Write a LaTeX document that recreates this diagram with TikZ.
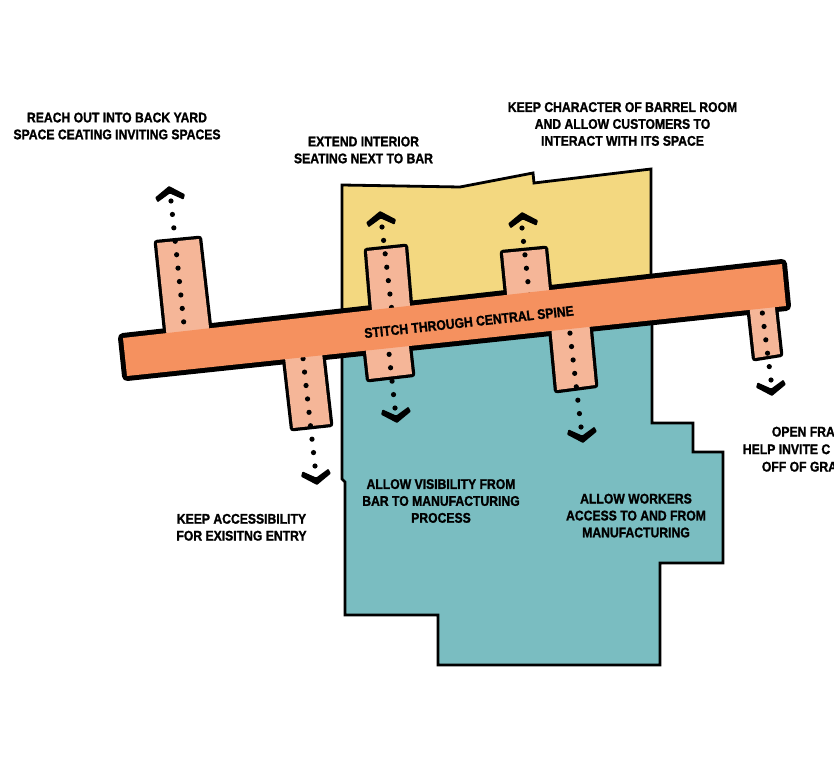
\documentclass[tikz,border=0pt]{standalone}
\usepackage{fontspec}
\newfontfamily\lblfont{Liberation Sans}[FakeStretch=0.87, FakeBold=1.3]
\definecolor{yel}{RGB}{243,216,128}
\definecolor{tealc}{RGB}{122,189,193}
\definecolor{spinec}{RGB}{245,145,95}
\definecolor{barc}{RGB}{245,182,152}
\tikzset{
  lbl/.style={font=\lblfont\bfseries\fontsize{14}{16.9}\selectfont, align=center, inner sep=0pt, text=black},
  lblw/.style={font=\lblfont\bfseries\fontsize{14}{16.9}\selectfont, inner sep=0pt, text=black, anchor=west},
  room/.style={draw=black, line width=2.8pt, line join=miter},
  barout/.style={draw=black, line width=6.5pt, line join=round},
  spineout/.style={draw=black, line width=10pt, line join=round},
  dotline/.style={draw=black, line width=5.2pt, line cap=round, dash pattern=on 0pt off 13.5pt},
  chev/.pic={\fill[black, rounded corners=0.8pt] (0,0) -- (15,10) -- (13,15) -- (0,7.5) -- (-13,15) -- (-15,10) -- cycle;}
}
\begin{document}
\begin{tikzpicture}[x=1pt,y=-1pt]
\useasboundingbox (0,0) rectangle (834,770);
\clip (0,0) rectangle (834,770);
% rooms
\fill[white] (0,0) rectangle (834,770);
\path[room, fill=yel] (342,335) -- (342,185) -- (460,187) -- (533,173) -- (534,183) -- (651,169) -- (651,302) -- cycle;
\path[room, fill=tealc] (342,335) -- (342,479) -- (345,482) -- (345,615) -- (438,615) -- (438,665) -- (660,665) -- (660,563) -- (723,563) -- (723,452) -- (693,452) -- (693,423) -- (652,423) -- (652,302) -- cycle;
% outlines of bars and spine
\def\barA{(157,243) -- (199,239) -- (211,345) -- (168,349) -- cycle}
\def\barB{(293,428) -- (330,424) -- (320,335) -- (283,340) -- cycle}
\def\barCu{(367,251) -- (405,247) -- (412,330) -- (374,334) -- cycle}
\def\barCd{(369,379) -- (412,374) -- (406,320) -- (363,325) -- cycle}
\def\barDu{(503,253) -- (545,249) -- (551,310) -- (509,314) -- cycle}
\def\barDd{(557,390) -- (595,385) -- (588,310) -- (550,315) -- cycle}
\def\barE{(755,358) -- (780,354) -- (773,290) -- (748,294) -- cycle}
\def\spinep{(123,338) -- (782,264) -- (786,306) -- (127,376) -- cycle}
\path[barout] \barA; \path[barout] \barB; \path[barout] \barCu; \path[barout] \barCd;
\path[barout] \barDu; \path[barout] \barDd; \path[barout] \barE;
\path[spineout] \spinep;
\fill[barc] \barA; \fill[barc] \barB; \fill[barc] \barCu; \fill[barc] \barCd;
\fill[barc] \barDu; \fill[barc] \barDd; \fill[barc] \barE;
% dotted paths
\coordinate (d1a) at (171,201); \coordinate (d1b) at (184,325);
\coordinate (d2a) at (315,466); \coordinate (d2b) at (301,340);
\coordinate (d3a) at (382,227); \coordinate (d3b) at (393,320);
\coordinate (d3c) at (395,408); \coordinate (d3d) at (387,335);
\coordinate (d4a) at (522,228); \coordinate (d4b) at (531,310);
\coordinate (d4c) at (581,427); \coordinate (d4d) at (569,325);
\coordinate (d5a) at (771,380); \coordinate (d5b) at (760,295);
\draw[dotline] (d1a) -- (d1b);
\draw[dotline] (d2a) -- (d2b);
\draw[dotline] (d3a) -- (d3b);
\draw[dotline] (d3c) -- (d3d);
\draw[dotline] (d4a) -- (d4b);
\draw[dotline] (d4c) -- (d4d);
\draw[dotline] (d5a) -- (d5b);
% chevrons
\pic[rotate=6] at (169,186) {chev};
\pic[rotate=6] at (380,211) {chev};
\pic[rotate=6] at (522,212) {chev};
\pic[rotate=186] at (317,485) {chev};
\pic[rotate=186] at (397,423) {chev};
\pic[rotate=186] at (583,443) {chev};
\pic[rotate=186] at (772,396) {chev};
% spine
\fill[spinec] \spinep;
\node[lbl, rotate=6.2] (spine) at (469,322) {STITCH THROUGH CENTRAL SPINE};
% labels
\node[lbl] (t1) at (117,126) {REACH OUT INTO BACK YARD\\SPACE CEATING INVITING SPACES};
\node[lbl] (t2) at (363.5,150) {EXTEND INTERIOR\\SEATING NEXT TO BAR};
\node[lbl] (t3) at (622.5,124) {KEEP CHARACTER OF BARREL ROOM\\AND ALLOW CUSTOMERS TO\\INTERACT WITH ITS SPACE};
\node[lbl] (t4) at (241.5,527.3) {KEEP ACCESSIBILITY\\FOR EXISITNG ENTRY};
\node[lbl] (t5) at (441,501) {ALLOW VISIBILITY FROM\\BAR TO MANUFACTURING\\PROCESS};
\node[lbl] (t6) at (636,515.6) {ALLOW WORKERS\\ACCESS TO AND FROM\\MANUFACTURING};
\node[lblw] (t7a) at (771.7,431.7) {OPEN FRA};
\node[lblw] (t7b) at (742.7,449.3) {HELP INVITE C};
\node[lblw] (t7c) at (761.7,466.7) {OFF OF GRA};
\end{tikzpicture}
\end{document}
